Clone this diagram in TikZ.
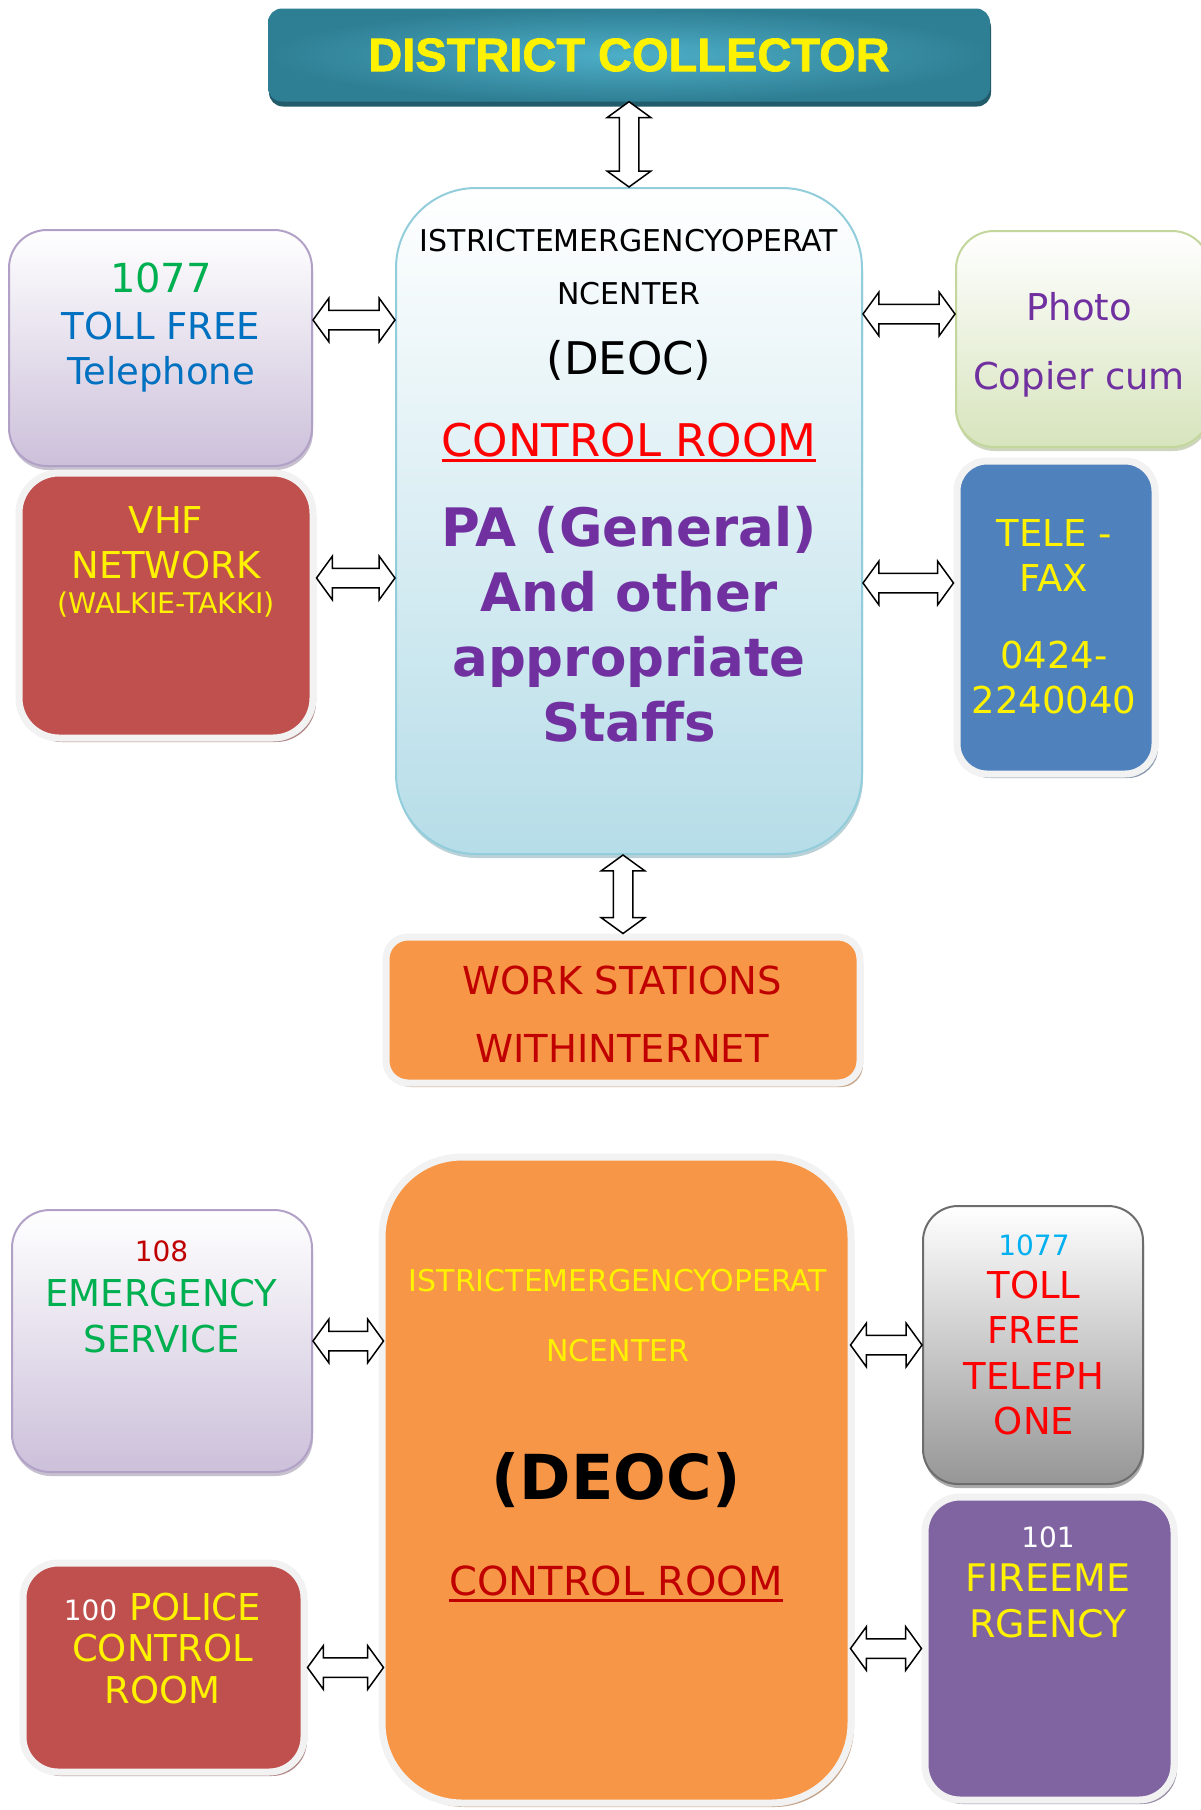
\documentclass[tikz,border=0pt]{standalone}
\usepackage{fontspec}
\setmainfont{DejaVu Sans}
\newfontfamily\headfont{Liberation Sans}[FakeBold=1.5]
\usepackage{tikz}
\usetikzlibrary{shapes.arrows,calc,shadows}

\definecolor{tealA}{HTML}{4DAFC8}
\definecolor{tealB}{HTML}{2F7F94}
\definecolor{tealC}{HTML}{225B6A}
\definecolor{deocline}{HTML}{92CDDC}
\definecolor{deocfill}{HTML}{B6DDE8}
\definecolor{lavline}{HTML}{B2A1C7}
\definecolor{lavfill}{HTML}{CCC0DA}
\definecolor{grnline}{HTML}{C3D69B}
\definecolor{grnfill}{HTML}{D7E4BD}
\definecolor{grayline}{HTML}{6D6D6D}
\definecolor{grayfill}{HTML}{969696}
\definecolor{redfill}{HTML}{C0504D}
\definecolor{bluefill}{HTML}{4F81BD}
\definecolor{orgfill}{HTML}{F79646}
\definecolor{violfill}{HTML}{8064A2}
\definecolor{rimgray}{HTML}{F2F2F2}
\definecolor{txtgreen}{HTML}{00B050}
\definecolor{txtblue}{HTML}{0070C0}
\definecolor{txtpurple}{HTML}{7030A0}
\definecolor{txtdred}{HTML}{C00000}
\definecolor{txtcyan}{HTML}{00B0F0}

\newcommand{\thickul}[1]{\setbox0=\hbox{#1}\rlap{\rule[-6pt]{\wd0}{3pt}}\box0}

\begin{document}
\begin{tikzpicture}[x=1pt, y=-1pt,
    every node/.style={inner sep=0pt},
    txt/.style={align=center},
    titlebox/.style={rounded corners=14pt, inner color=tealA, outer color=tealB,
        drop shadow={shadow xshift=1pt, shadow yshift=-5pt, fill=tealC, opacity=1},
        text=yellow, font={\headfont\bfseries\fontsize{47}{50}\selectfont}},
    softbox/.style 2 args={draw=#1, line width=2pt, top color=white, bottom color=#2,
        drop shadow={shadow xshift=1pt, shadow yshift=-4pt, fill=#1!80!black, opacity=0.5}},
    rimbox/.style={draw=rimgray, line width=7pt, fill=#1,
        drop shadow={shadow xshift=3pt, shadow yshift=-4pt, fill=#1!45!gray, opacity=0.8}},
    dblarrow/.style={to path={
        let \p1=(\tikztostart), \p2=(\tikztotarget),
            \n1={veclen(\x2-\x1,\y2-\y1)}, \n2={atan2(\y2-\y1,\x2-\x1)} in
        node[double arrow, draw=black, fill=white, line width=1.5pt,
             inner xsep=0pt, inner ysep=9pt, double arrow head extend=12pt,
             double arrow tip angle=108, minimum height=\n1, rotate=\n2]
             at ($(\p1)!0.5!(\p2)$) {}}}
]
\useasboundingbox (0,0) rectangle (1200,1810);

% boxes
\node[titlebox, minimum width=722pt, minimum height=93pt] (dc) at (629,55) {DISTRICT COLLECTOR};
\node[softbox={deocline}{deocfill}, rounded corners=80pt, minimum width=466pt, minimum height=666pt] (deoc) at (629,521) {};
\node[softbox={lavline}{lavfill}, rounded corners=38pt, minimum width=303pt, minimum height=236pt] (tollfree) at (160.5,348) {};
\node[rimbox=redfill, rounded corners=40pt, minimum width=294pt, minimum height=265pt] (vhf) at (166,605.5) {};
\node[softbox={grnline}{grnfill}, rounded corners=38pt, minimum width=254pt, minimum height=216pt] (photo) at (1083,339) {};
\node[rimbox=bluefill, rounded corners=30pt, minimum width=198pt, minimum height=313pt] (fax) at (1056,617.5) {};
\node[rimbox=orgfill, rounded corners=22pt, minimum width=474pt, minimum height=146pt] (work) at (623,1010) {};
\node[rimbox=orgfill, rounded corners=80pt, minimum width=469pt, minimum height=646pt] (deocb) at (616.5,1480) {};
\node[softbox={lavline}{lavfill}, rounded corners=38pt, minimum width=300pt, minimum height=262pt] (ambul) at (162,1341) {};
\node[rimbox=redfill, rounded corners=35pt, minimum width=281pt, minimum height=209pt] (police) at (163.5,1667.5) {};
\node[softbox={grayline}{grayfill}, rounded corners=35pt, minimum width=220pt, minimum height=278pt] (tollfreeb) at (1033,1345) {};
\node[rimbox=violfill, rounded corners=35pt, minimum width=249pt, minimum height=303pt] (fire) at (1049.5,1648.5) {};

% texts
\node[txt, anchor=north, font=\fontsize{30}{53}\selectfont] (deoctitle) at (629,229) {ISTRICTEMERGENCYOPERAT\\NCENTER};
\node[anchor=base, font=\fontsize{45}{50}\selectfont] (deocabbr) at (629,374.5) {(DEOC)};
\node[anchor=base, text=red, font=\fontsize{45}{50}\selectfont] (deocroom) at (629,456) {\thickul{CONTROL ROOM}};
\node[txt, anchor=north, text=txtpurple, font=\fontsize{53}{65}\selectfont\bfseries] (deocstaff) at (629,506) {PA (General)\\And other\\appropriate\\Staffs};

\node[txt, anchor=north, text=txtblue, font=\fontsize{37}{47}\selectfont] (tollfreetxt) at (161,263) {{\fontsize{40}{47}\selectfont\color{txtgreen}1077}\\TOLL FREE\\[-2pt]Telephone};
\node[txt, anchor=north, text=yellow, font=\fontsize{37}{45}\selectfont] (vhftxt) at (166,506) {VHF\\NETWORK\\[-10pt]{\fontsize{28.5}{34}\selectfont(WALKIE-TAKKI)}};
\node[txt, anchor=north, text=txtpurple, font=\fontsize{37}{69}\selectfont] (phototxt) at (1079,292.5) {Photo\\Copier cum};
\node[txt, anchor=north, text=yellow, font=\fontsize{37}{45}\selectfont] (faxtxt) at (1054,519.5) {TELE -\\FAX\\[32pt]0424-\\2240040};
\node[txt, anchor=north, text=txtdred, font=\fontsize{38.5}{68}\selectfont] (worktxt) at (622,966) {WORK STATIONS\\WITHINTERNET};

\node[txt, anchor=north, text=yellow, font=\fontsize{30}{70}\selectfont] (deocbtitle) at (618,1269) {ISTRICTEMERGENCYOPERAT\\NCENTER};
\node[anchor=base, font=\fontsize{62}{70}\selectfont\bfseries] (deocbabbr) at (616,1499.5) {(DEOC)};
\node[anchor=base, text=txtdred, font=\fontsize{40}{50}\selectfont] (deocbroom) at (616,1595.5) {\thickul{CONTROL ROOM}};

\node[txt, anchor=north, text=txtgreen, font=\fontsize{37}{46}\selectfont] (ambultxt) at (161.5,1240.6) {{\fontsize{28}{34}\selectfont\color{txtdred}108}\\[-1.5pt]EMERGENCY\\SERVICE};
\node[txt, anchor=north, text=yellow, font=\fontsize{37}{41.5}\selectfont] (policetxt) at (162.5,1592.5) {{\fontsize{28}{34}\selectfont\color{white}100} POLICE\\CONTROL\\ROOM};
\node[txt, anchor=north, text=red, font=\fontsize{37}{45.5}\selectfont] (tollfreebtxt) at (1034,1234.6) {{\fontsize{28}{34}\selectfont\color{txtcyan}1077}\\[-3pt]TOLL\\FREE\\TELEPH\\ONE};
\node[txt, anchor=north, text=yellow, font=\fontsize{38}{46}\selectfont] (firetxt) at (1048,1526.6) {{\fontsize{28}{34}\selectfont\color{white}101}\\[-2pt]FIREEME\\RGENCY};

% connectors
\draw[dblarrow] (dc.south) to (deoc.north);
\draw[dblarrow] ($(tollfree.east)+(0,-28)$) to ($(tollfree.east -| deoc.west)+(0,-28)$);
\draw[dblarrow] ($(vhf.east)+(0,-27.5)$) to ($(vhf.east -| deoc.west)+(0,-27.5)$);
\draw[dblarrow] ($(photo.west -| deoc.east)+(0,-25)$) to ($(photo.west)+(0,-25)$);
\draw[dblarrow] ($(fax.west -| deoc.east)+(0,-34.5)$) to ($(fax.west)+(0,-34.5)$);
\draw[dblarrow] (work.north |- deoc.south) to (work.north);
\draw[dblarrow] (ambul.east) to ($(ambul.east -| deocb.west)+(5,0)$);
\draw[dblarrow] (police.east) to ($(police.east -| deocb.west)+(5,0)$);
\draw[dblarrow] ($(tollfreeb.west -| deocb.east)+(-4,0)$) to (tollfreeb.west);
\draw[dblarrow] ($(fire.west -| deocb.east)+(-4,0)$) to (fire.west);
\end{tikzpicture}
\end{document}
